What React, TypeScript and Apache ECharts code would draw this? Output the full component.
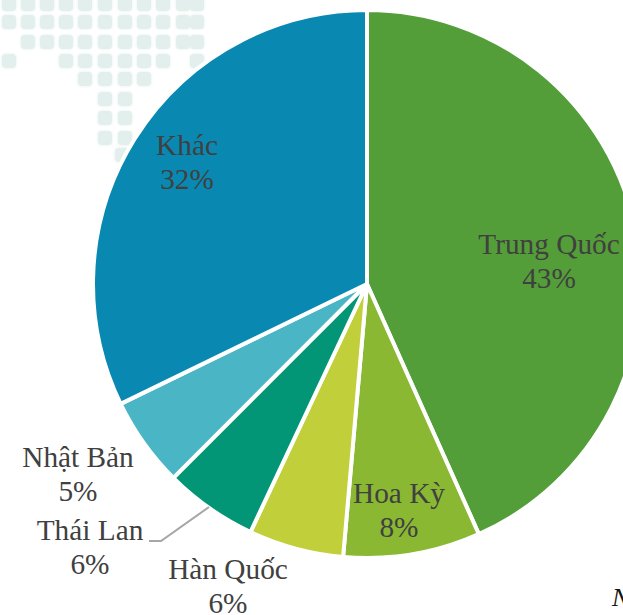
import React, { useEffect, useRef } from "react";
import * as echarts from "echarts";

const categories = ["Trung Quốc", "Hoa Kỳ", "Hàn Quốc", "Thái Lan", "Nhật Bản", "Khác"];
const values = [43.3, 8.08, 5.6, 5.5, 5.3, 32.2];
const colors = ["#549e39", "#8ab833", "#c0cf3a", "#029676", "#4ab5c4", "#0989b1"];
const labelCentres = [[549, 261], [399, 510], [228, 586], [90, 547], [78, 474], [187, 162]];

// pale world-map dots behind the pie: [row y, column xs]
const mapRows: [number, number[]][] = [
  [4, [9, 28, 47, 66, 85, 105, 125, 144, 163, 183, 197]],
  [22, [9, 28, 47, 66, 85, 105, 125, 144, 163, 183, 197]],
  [42, [28, 47, 66, 85, 105, 125, 144, 163, 183, 197]],
  [61, [9, 66, 85, 105, 125, 144, 163, 197]],
  [79, [85, 105, 125, 144]],
  [99, [105, 125]],
  [118, [105, 125]],
  [138, [105, 125]],
  [155, [122]],
];

export default function App() {
  const ref = useRef<HTMLDivElement>(null);
  useEffect(() => {
    document.body.style.margin = "0";
    document.body.style.overflow = "hidden";
    const chart = echarts.init(ref.current!, undefined, { renderer: "svg" });
    const dots: any[] = [];
    mapRows.forEach(([y, xs]) =>
      xs.forEach((x) =>
        dots.push({
          type: "rect",
          z: -1,
          shape: { x: x - 7, y: y - 7, width: 14, height: 14, r: 4 },
          style: { fill: "#e3efec", shadowBlur: 3, shadowColor: "#e3efec" },
        })
      )
    );
    chart.setOption({
      animation: false,
      backgroundColor: "#ffffff",
      graphic: [
        ...dots,
        {
          type: "polyline",
          z: 10,
          shape: { points: [[209, 507], [161, 541], [149, 541]] },
          style: { stroke: "#a6a6a6", lineWidth: 2, fill: "none" },
        },
        {
          type: "text",
          z: 10,
          x: 612,
          y: 584,
          style: { text: "N", font: "italic 26px 'Liberation Serif'", fill: "#111111" },
        },
      ],
      series: [
        {
          type: "pie",
          center: [367, 284],
          radius: [0, 274],
          startAngle: 90,
          clockwise: true,
          silent: true,
          avoidLabelOverlap: false,
          itemStyle: { borderColor: "#ffffff", borderWidth: 4 },
          label: {
            show: true,
            position: "inside",
            formatter: (p: any) => `${p.name}\n${Math.round(p.value)}%`,
            fontFamily: "Liberation Serif",
            fontSize: 29.3,
            lineHeight: 34,
            color: "#404040",
            align: "center",
            verticalAlign: "middle",
          },
          labelLine: { show: false },
          labelLayout: (p: any) => {
            const [x, y] = labelCentres[p.dataIndex];
            return { x, y, align: "center", verticalAlign: "middle" };
          },
          data: categories.map((name, i) => ({
            name,
            value: values[i],
            itemStyle: { color: colors[i] },
          })),
        },
      ],
    });
    return () => chart.dispose();
  }, []);
  return <div ref={ref} style={{ width: 623, height: 615 }} />;
}
